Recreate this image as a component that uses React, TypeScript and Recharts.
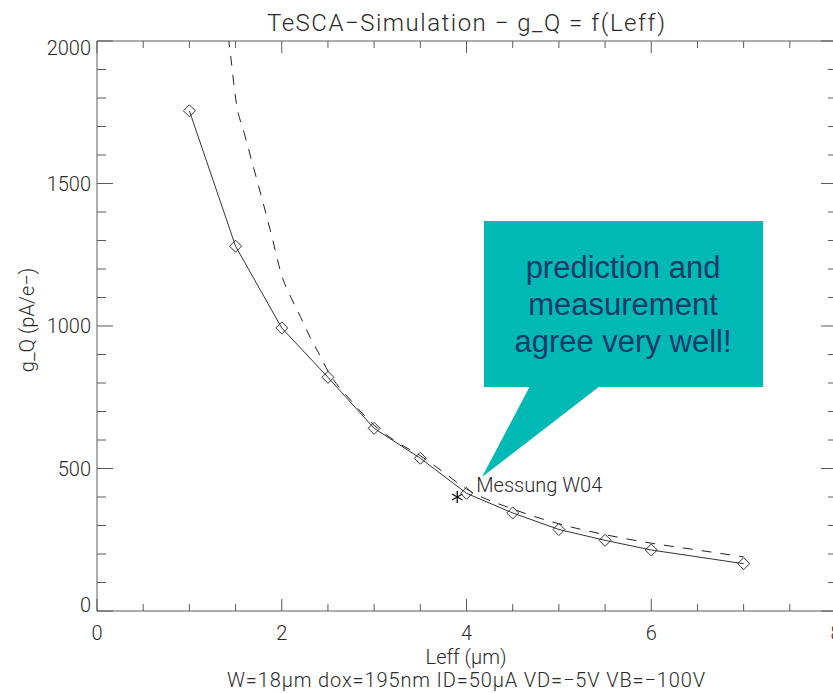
import { ComposedChart, Line, Scatter, XAxis, YAxis, ReferenceLine } from 'recharts';

// TeSCA simulation points (solid line, diamonds)
const leffSim = [1, 1.5, 2, 2.5, 3, 3.5, 4, 4.5, 5, 5.5, 6, 7];
const gqSim = [1755, 1280, 993, 820, 641, 536, 413, 344, 286, 248, 214, 166];

// dashed curve
const leffCurve = [1.4, 1.42, 1.45, 1.5, 1.6, 1.7, 1.8, 1.9, 2, 2.1, 2.2, 2.3, 2.4, 2.5, 2.75, 3, 3.25, 3.5, 3.75, 4, 4.5, 5, 5.5, 6, 6.5, 7];
const gqCurve = [2080, 2020, 1940, 1800, 1670, 1550, 1430, 1305, 1177, 1100, 1034, 965, 905, 842, 738, 652, 592, 545, 487, 428, 358, 306, 268, 238, 214, 190];

// measurement W04
const leffMeas = [3.9];
const gqMeas = [400];
const measLabel = 'Messung W04';

const xTicks = [0, 0.5, 1, 1.5, 2, 2.5, 3, 3.5, 4, 4.5, 5, 5.5, 6, 6.5, 7, 7.5, 8];
const xMajor = [0, 2, 4, 6, 8];
const yTicks = [0, 100, 200, 300, 400, 500, 600, 700, 800, 900, 1000, 1100, 1200, 1300, 1400, 1500, 1600, 1700, 1800, 1900, 2000];
const yMajor = [0, 500, 1000, 1500, 2000];

const simData = leffSim.map((x, i) => ({ x, y: gqSim[i] }));
const curveData = leffCurve.map((x, i) => ({ x, y: gqCurve[i] }));
const measData = leffMeas.map((x, i) => ({ x, y: gqMeas[i] }));

const PLOT_W = 739;
const PLOT_H = 570;
const AXIS = '#5a5a5a';
const INK = '#2a2a2a';
const FONT = 'Roboto, "DejaVu Sans", sans-serif';

const XTick = ({ x, y, payload }: any) => {
  const v = payload.value;
  const major = xMajor.includes(v);
  const len = major ? 12 : 7;
  return (
    <g>
      <line x1={x} x2={x} y1={y} y2={y - len} stroke={AXIS} />
      <line x1={x} x2={x} y1={y - PLOT_H} y2={y - PLOT_H + len} stroke={AXIS} />
      {major && (
        <text x={x} y={y + 29} textAnchor="middle" fontSize={20} fontWeight={300} fontFamily={FONT} fill={INK}>
          {v}
        </text>
      )}
    </g>
  );
};

const YTick = ({ x, y, payload }: any) => {
  const v = payload.value;
  const major = yMajor.includes(v);
  // top and bottom labels sit a bit inside the frame
  const dy = v === 2000 ? 14 : v === 0 ? 1 : 7;
  return (
    <g>
      <line x1={x} x2={x + (major ? 16 : 9)} y1={y} y2={y} stroke={AXIS} />
      <line x1={x + PLOT_W} x2={x + PLOT_W - (major ? 15 : 8)} y1={y} y2={y} stroke={AXIS} />
      {major && (
        <text x={x - 6} y={y + dy} textAnchor="end" fontSize={20} fontWeight={300} fontFamily={FONT} fill={INK}>
          {v}
        </text>
      )}
    </g>
  );
};

const Diamond = (p: any) => {
  const { cx, cy, index } = p;
  if (cx == null || cy == null) return <g key={index} />;
  return (
    <path
      key={index}
      d={`M${cx},${cy - 6}L${cx + 6},${cy}L${cx},${cy + 6}L${cx - 6},${cy}Z`}
      fill="none"
      stroke="#333"
      strokeWidth={1}
    />
  );
};

const Star = (p: any) => {
  const { cx, cy } = p;
  const r = 6;
  const dx = r * 0.866;
  const dy = r * 0.5;
  return (
    <g>
      <line x1={cx} x2={cx} y1={cy - r} y2={cy + r} stroke="#111" strokeWidth={1.3} />
      <line x1={cx - dx} x2={cx + dx} y1={cy - dy} y2={cy + dy} stroke="#111" strokeWidth={1.3} />
      <line x1={cx - dx} x2={cx + dx} y1={cy + dy} y2={cy - dy} stroke="#111" strokeWidth={1.3} />
      <text x={cx + 19} y={cy - 5} fontSize={20} fontWeight={300} fontFamily={FONT} fill={INK}>
        {measLabel}
      </text>
    </g>
  );
};

export default function App() {
  return (
    <div style={{ position: 'absolute', left: 0, top: 0, width: 833, height: 693, overflow: 'hidden', background: '#fff' }}>
      <ComposedChart width={850} height={693} margin={{ top: 41, right: 14, bottom: 0, left: 0 }}>
        <XAxis
          type="number"
          dataKey="x"
          domain={[0, 8]}
          ticks={xTicks}
          interval={0}
          allowDataOverflow
          tickSize={0}
          tickMargin={0}
          tickLine={false}
          tick={<XTick />}
          axisLine={{ stroke: AXIS }}
          height={82}
        />
        <YAxis
          type="number"
          domain={[0, 2000]}
          ticks={yTicks}
          interval={0}
          allowDataOverflow
          tickSize={0}
          tickMargin={0}
          tickLine={false}
          tick={<YTick />}
          axisLine={{ stroke: AXIS }}
          width={97}
        />
        <ReferenceLine y={2000} stroke={AXIS} />
        <ReferenceLine x={8} stroke={AXIS} />
        <Line
          data={curveData}
          dataKey="y"
          type="monotone"
          stroke="#222"
          strokeWidth={1}
          strokeDasharray="10 9"
          dot={false}
          isAnimationActive={false}
        />
        <Line
          data={simData}
          dataKey="y"
          type="linear"
          stroke="#333"
          strokeWidth={1}
          dot={Diamond}
          activeDot={false}
          isAnimationActive={false}
        />
        <Scatter data={measData} dataKey="y" shape={<Star />} isAnimationActive={false} />
        <text x={466} y={31} textAnchor="middle" fontSize={24} fontWeight={300} fontFamily={FONT} fill={INK} textLength={398} lengthAdjust="spacing">
          TeSCA−Simulation − g_Q = f(Leff)
        </text>
        <text x={466} y={664} textAnchor="middle" fontSize={20} fontWeight={300} fontFamily={FONT} fill={INK}>
          Leff (μm)
        </text>
        <text x={466} y={687} textAnchor="middle" fontSize={20} fontWeight={300} fontFamily={FONT} fill={INK} textLength={478} lengthAdjust="spacing">
          W=18μm dox=195nm ID=50μA VD=−5V VB=−100V
        </text>
        <text x={0} y={0} transform="translate(34,320) rotate(-90)" textAnchor="middle" fontSize={20} fontWeight={300} fontFamily={FONT} fill={INK}>
          g_Q (pA/e−)
        </text>
      </ComposedChart>
      <svg width={833} height={693} style={{ position: 'absolute', left: 0, top: 0, pointerEvents: 'none' }}>
        <rect x={484} y={221} width={279} height={166} fill="#00B9B4" />
        <polygon points="530,386 600,386 482,477" fill="#00B9B4" />
        <g fontFamily='"Liberation Sans", Arial, sans-serif' fontSize={31} fill="#1B3A6B" textAnchor="middle">
          <text x={623} y={278}>prediction and</text>
          <text x={623} y={315}>measurement</text>
          <text x={623} y={352}>agree very well!</text>
        </g>
      </svg>
    </div>
  );
}
